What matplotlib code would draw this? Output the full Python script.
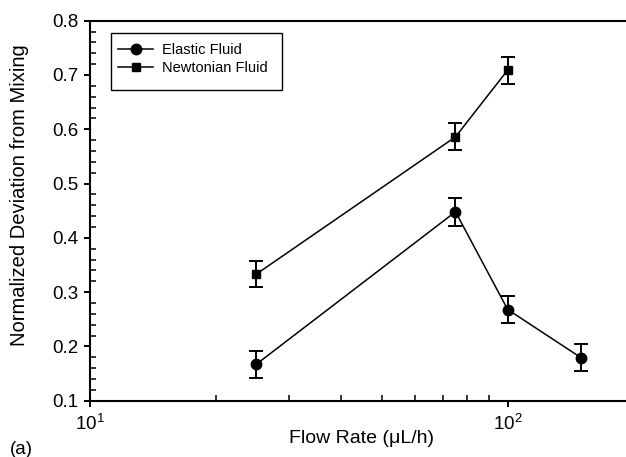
import numpy as np
import matplotlib
matplotlib.use('Agg')
import matplotlib.pyplot as plt
from matplotlib.ticker import MultipleLocator, LogLocator
from matplotlib.patches import Rectangle
from matplotlib.lines import Line2D

plt.rcParams['font.family'] = ['Liberation Sans', 'DejaVu Sans']
plt.rcParams['mathtext.fontset'] = 'custom'
plt.rcParams['mathtext.rm'] = 'Liberation Sans'
plt.rcParams['mathtext.it'] = 'Liberation Sans:italic'

# data
elastic_flow = [25, 75, 100, 150]
elastic_dev = [0.167, 0.448, 0.268, 0.179]
elastic_err = [0.025, 0.026, 0.024, 0.025]

newton_flow = [25, 75, 100]
newton_dev = [0.333, 0.586, 0.709]
newton_err = [0.024, 0.025, 0.025]

fig = plt.figure(figsize=(6.26, 4.57), dpi=100)
ax = fig.add_axes([90/626, 1 - 400.7/457, 1 - 90/626, (400.7 - 20.7)/457])

style = dict(color='black', linewidth=1.1, elinewidth=1.4, capsize=5, capthick=1.4)
ax.errorbar(elastic_flow, elastic_dev, yerr=elastic_err, marker='o', markersize=7.5, **style)
ax.errorbar(newton_flow, newton_dev, yerr=newton_err, marker='s', markersize=6, **style)

ax.set_xscale('log')
ax.set_xlim(10, 192)
ax.set_ylim(0.1, 0.8)
ax.yaxis.set_major_locator(MultipleLocator(0.1))
ax.yaxis.set_minor_locator(MultipleLocator(0.02))
ax.xaxis.set_major_locator(LogLocator(base=10))
ax.xaxis.set_minor_locator(LogLocator(base=10, subs=np.arange(2, 10)))
ax.xaxis.set_minor_formatter(plt.NullFormatter())

for s in ['left', 'bottom', 'top']:
    ax.spines[s].set_linewidth(1.5)
ax.spines['right'].set_visible(False)

ax.tick_params(which='major', direction='out', length=4.5, width=1.4, labelsize=13.5)
ax.tick_params(which='minor', direction='in', length=4, width=1.1)
ax.tick_params(axis='y', which='major', pad=4)
ax.tick_params(axis='x', which='major', pad=5)
ax.set_yticklabels([f'{v:.1f}' for v in ax.get_yticks()])

ax.set_xlabel('Flow Rate (\u03bcL/h)', fontsize=14)
ax.xaxis.set_label_coords(0.506, 1 - (438 - 20.7)/380, transform=ax.transAxes)
ax.xaxis.label.set_va('center')
ax.set_ylabel('Normalized Deviation from Mixing', fontsize=14.5)
ax.yaxis.set_label_coords(20/626, 1 - 195/457, transform=fig.transFigure)
ax.yaxis.label.set_va('center')

fig.text(10/626, 1 - 450/457, '(a)', fontsize=13.5, va='center', ha='left')

handles = [Line2D([], [], color='black', linewidth=1.1, marker='o', markersize=7.5),
           Line2D([], [], color='black', linewidth=1.1, marker='s', markersize=6)]
ax.legend(handles, ['Elastic Fluid', 'Newtonian Fluid'], loc='upper left',
          bbox_to_anchor=(118/626, 1 - 43/457), bbox_transform=fig.transFigure,
          frameon=False, fontsize=10.5, handlelength=2.4, handletextpad=0.6,
          labelspacing=0.3, borderpad=0, borderaxespad=0)
fig.patches.append(Rectangle((110.7/626, 1 - 90/457), 171/626, 57/457,
                             transform=fig.transFigure, fill=False,
                             edgecolor='black', linewidth=1.0))

fig.savefig('out.png', dpi=100)
